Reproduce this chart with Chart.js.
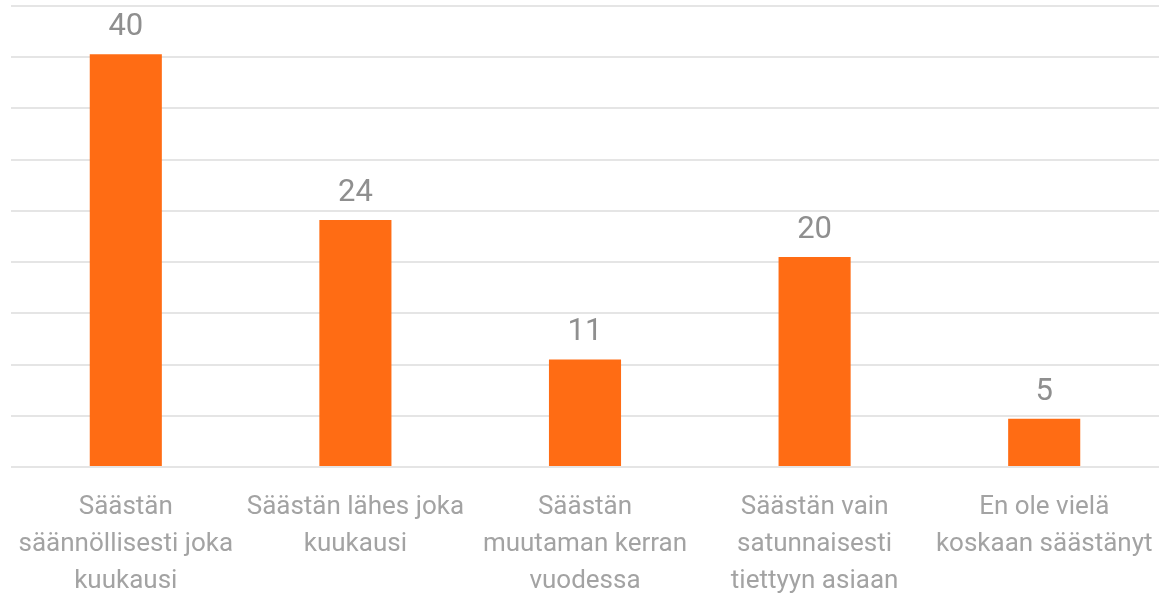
<!DOCTYPE html>
<html>
<head>
<meta charset="utf-8">
<script src="https://cdn.jsdelivr.net/npm/chart.js@4/dist/chart.umd.min.js"></script>
<style>
html,body{margin:0;padding:0;background:#fff;}
#wrap{width:1159px;height:596px;position:relative;}
</style>
</head>
<body>
<div id="wrap"><canvas id="c"></canvas></div>
<script>
const categories = [
  ["Säästän", "säännöllisesti joka", "kuukausi"],
  ["Säästän lähes joka", "kuukausi"],
  ["Säästän", "muutaman kerran", "vuodessa"],
  ["Säästän vain", "satunnaisesti", "tiettyyn asiaan"],
  ["En ole vielä", "koskaan säästänyt"]
];
const values = [40.3, 24.1, 10.5, 20.5, 4.7];
const valueLabels = ["40", "24", "11", "20", "5"];

const FONT = "Roboto, 'Liberation Sans', sans-serif";

const valueLabelPlugin = {
  id: 'valueLabels',
  afterDatasetsDraw(chart) {
    const ctx = chart.ctx;
    const meta = chart.getDatasetMeta(0);
    ctx.save();
    ctx.font = "31px " + FONT;
    ctx.fillStyle = "#8f8f8f";
    ctx.textAlign = "center";
    ctx.textBaseline = "alphabetic";
    meta.data.forEach((bar, i) => {
      ctx.fillText(valueLabels[i], bar.x, bar.y - 19);
    });
    ctx.restore();
  }
};

new Chart(document.getElementById('c'), {
  type: 'bar',
  data: {
    labels: categories,
    datasets: [{
      data: values,
      backgroundColor: '#ff6c14',
      borderWidth: 0,
      categoryPercentage: 1,
      barPercentage: 0.314
    }]
  },
  options: {
    responsive: true,
    maintainAspectRatio: false,
    animation: false,
    layout: { padding: { left: 11, right: 0, top: 6, bottom: 0 } },
    plugins: { legend: { display: false }, tooltip: { enabled: false } },
    scales: {
      y: {
        min: 0, max: 45,
        ticks: { display: false, stepSize: 5 },
        grid: { color: '#e5e5e5', lineWidth: 2, drawTicks: false },
        border: { display: false }
      },
      x: {
        grid: { display: false, drawTicks: false },
        border: { display: false },
        afterFit(scale) { scale.paddingLeft = 0; scale.paddingRight = 0; scale.height = 129; },
        ticks: {
          autoSkip: false, maxRotation: 0, minRotation: 0,
          color: '#a3a3a3',
          padding: 22,
          font: { family: FONT, size: 26, lineHeight: '37px' }
        }
      }
    }
  },
  plugins: [valueLabelPlugin]
});
</script>
</body>
</html>
